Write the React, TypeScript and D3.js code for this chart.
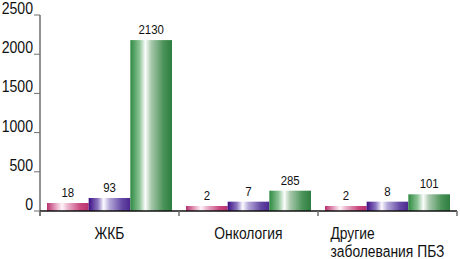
import { useRef, useEffect } from 'react';
import * as d3 from 'd3';

// Data
const categories = ['ЖКБ', 'Онкология', 'Другие\nзаболевания ПБЗ'];
const seriesKeys = ['a', 'b', 'c'];
// numbers printed above bars
const labelValues = [
  [18, 93, 2130],
  [2, 7, 285],
  [2, 8, 101],
];
// heights the bars are actually drawn with (estimated from the picture)
const barValues = [
  [102, 166, 2180],
  [64, 119, 259],
  [64, 119, 213],
];
const yTicks = [0, 500, 1000, 1500, 2000, 2500];

const gradients = [
  { id: 'gPink', stops: ['#b8306e', '#e8a8c4', '#fdf4f8', '#eab4cc', '#c8487f', '#b83070'] },
  { id: 'gPurple', stops: ['#3c0e84', '#8c78c0', '#fbfaff', '#b4a8d8', '#6448a4', '#4c2890'] },
  { id: 'gGreen', stops: ['#2f8a42', '#8cc496', '#fbfdfb', '#a8c8ac', '#4a9258', '#2e7e40'] },
];
const stopOffsets = ['0%', '22%', '36%', '50%', '80%', '100%'];

// condensed look: Liberation Sans squeezed horizontally
const font = "'Liberation Sans', Arial, sans-serif";

export default function App() {
  const ref = useRef<SVGSVGElement>(null);
  const width = 460;
  const height = 259;

  useEffect(() => {
    const svg = d3.select(ref.current);
    svg.selectAll('*').remove();

    const left = 40;
    const right = 457;
    const y0 = 211;
    const yTop = 15;

    // Scales
    const x0 = d3.scaleBand<string>().domain(categories).range([left, right]);
    const x1 = d3.scaleBand<string>().domain(seriesKeys).range([7, x0.bandwidth() - 7]);
    const y = d3.scaleLinear().domain([0, 2500]).range([y0, yTop]);

    // Gradients
    const defs = svg.append('defs');
    gradients.forEach(g => {
      const lg = defs.append('linearGradient')
        .attr('id', g.id)
        .attr('x1', '0%').attr('x2', '100%')
        .attr('y1', '0%').attr('y2', '0%');
      g.stops.forEach((c, i) => {
        lg.append('stop').attr('offset', stopOffsets[i]).attr('stop-color', c);
      });
    });

    // Bars
    const groups = svg.selectAll('g.grp')
      .data(categories)
      .enter()
      .append('g')
        .attr('class', 'grp')
        .attr('transform', d => `translate(${x0(d)},0)`);

    groups.each(function (cat, ci) {
      const g = d3.select(this);
      seriesKeys.forEach((k, si) => {
        const v = barValues[ci][si];
        g.append('rect')
          .attr('x', x1(k)!)
          .attr('y', y(v))
          .attr('width', x1.bandwidth())
          .attr('height', y0 - y(v))
          .attr('fill', `url(#${gradients[si].id})`);
        g.append('text')
          .attr('transform', `translate(${x1(k)! + x1.bandwidth() / 2},${y(v) - 6}) scale(0.88,1)`)
          .attr('text-anchor', 'middle')
          .attr('font-family', font)
          .attr('font-size', 13)
          .attr('fill', '#111')
          .text(labelValues[ci][si]);
      });
    });

    // Y axis
    svg.append('line')
      .attr('x1', left).attr('x2', left)
      .attr('y1', yTop).attr('y2', y0 + 5)
      .attr('stroke', '#6e6e6e').attr('stroke-width', 1.5);

    yTicks.forEach(t => {
      svg.append('line')
        .attr('x1', left - 6).attr('x2', left)
        .attr('y1', y(t)).attr('y2', y(t))
        .attr('stroke', '#6e6e6e').attr('stroke-width', 1);
      svg.append('text')
        .attr('transform', `translate(${left - 7},${y(t) - 1}) scale(0.88,1)`)
        .attr('text-anchor', 'end')
        .attr('font-family', font)
        .attr('font-size', 16)
        .attr('fill', '#111')
        .text(t);
    });

    // X axis
    svg.append('line')
      .attr('x1', left).attr('x2', right)
      .attr('y1', y0).attr('y2', y0)
      .attr('stroke', '#111').attr('stroke-width', 1.5);

    const bounds = categories.map(c => x0(c)!).concat([right]);
    bounds.forEach(b => {
      svg.append('line')
        .attr('x1', b).attr('x2', b)
        .attr('y1', y0).attr('y2', y0 + 5)
        .attr('stroke', '#6e6e6e').attr('stroke-width', 1.5);
    });

    // Category labels (multi-line ones are left aligned, block centred)
    const sx = 0.84;
    categories.forEach(c => {
      const lines = c.split('\n');
      const t = svg.append('text')
        .attr('font-family', font)
        .attr('font-size', 16.5)
        .attr('fill', '#111');
      lines.forEach((ln, i) => {
        t.append('tspan')
          .attr('x', 0)
          .attr('y', 239 + i * 18)
          .text(ln);
      });
      const w = (t.node() as SVGTextElement).getBBox().width * sx;
      const cx = x0(c)! + x0.bandwidth() / 2;
      t.attr('transform', `translate(${cx - w / 2},0) scale(${sx},1)`);
    });
  }, []);

  return (
    <svg
      ref={ref}
      width={width}
      height={height}
      style={{ position: 'absolute', left: 0, top: 0, background: '#fff' }}
    />
  );
}
